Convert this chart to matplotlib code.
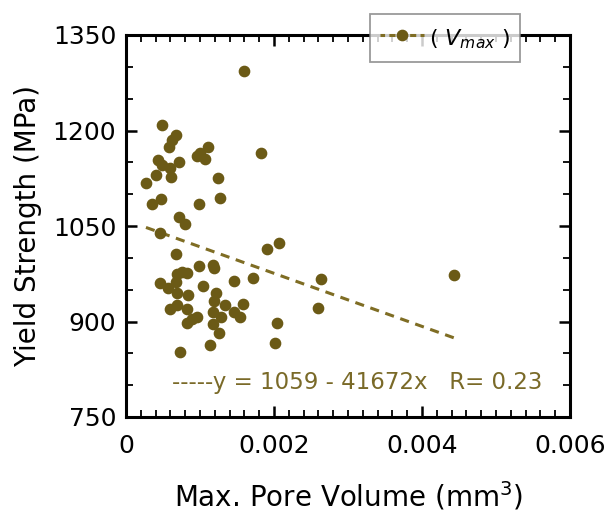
import matplotlib
matplotlib.use("Agg")
import matplotlib.pyplot as plt
from matplotlib.ticker import MultipleLocator, FixedLocator, FixedFormatter
from matplotlib.lines import Line2D
import numpy as np

# Data: max pore volume (mm^3) vs yield strength (MPa)
pore_volume = [
    0.000491, 0.000676, 0.000618, 0.000585, 0.000426, 0.000493, 0.000595, 0.000712,
    0.000405, 0.000604, 0.000270, 0.000351, 0.000469, 0.000714, 0.000800, 0.000459,
    0.000676, 0.000459, 0.000572, 0.000689, 0.000820, 0.000757, 0.000676, 0.000685,
    0.000842, 0.000685, 0.000601, 0.000820, 0.000820, 0.000888, 0.000955, 0.000730,
    0.000959, 0.001000, 0.001068, 0.001112, 0.001247, 0.001270, 0.000991, 0.001831,
    0.001901, 0.002068, 0.000993, 0.001176, 0.001193, 0.001462, 0.001716, 0.001034,
    0.001220, 0.001193, 0.001338, 0.001581, 0.001180, 0.001462, 0.001288, 0.001541,
    0.001180, 0.002043, 0.001259, 0.001131, 0.002007, 0.001595, 0.002631, 0.002599,
    0.004432,
]
yield_strength = [
    1208.6, 1192.9, 1185.1, 1173.6, 1153.7, 1145.8, 1140.6, 1151.0,
    1129.6, 1127.7, 1117.1, 1085.3, 1091.9, 1064.6, 1052.7, 1038.5,
    1006.5, 960.0, 952.1, 974.6, 976.6, 978.5, 962.5, 944.3,
    941.6, 926.7, 920.4, 920.1, 898.1, 903.4, 906.6, 852.1,
    1159.9, 1164.2, 1154.8, 1174.6, 1124.9, 1094.4, 1085.3, 1165.4,
    1013.6, 1023.8, 987.2, 989.2, 983.6, 964.1, 968.8, 956.2,
    944.8, 931.7, 925.9, 927.5, 915.5, 915.0, 907.2, 906.6,
    895.4, 898.1, 882.4, 863.1, 866.7, 1293.9, 966.3, 921.6,
    972.5,
]
fit_intercept = 1059
fit_slope = -41672
fit_r = 0.23

x_ticks = [0, 0.002, 0.004, 0.006]
x_tick_labels = ["0", "0.002", "0.004", "0.006"]
y_ticks = [750, 900, 1050, 1200, 1350]

olive = "#6B5A16"
line_col = "#7F6D24"
text_col = "#7A6A28"

fig = plt.figure(figsize=(6.09, 5.13), dpi=100)
ax = fig.add_axes([126/609, 1-417/513, 444/609, 382/513])

x = np.array(pore_volume)
y = np.array(yield_strength)
ax.plot(x, y, linestyle="none", marker="o", markersize=7.4,
        markerfacecolor=olive, markeredgecolor=olive, zorder=3)

xf = np.array([x.min(), x.max()])
yf = fit_intercept + fit_slope * xf
ax.plot(xf, yf, color=line_col, linewidth=2.2, dashes=(3, 2.2), zorder=2)

# legend proxy
h = Line2D([], [], color=line_col, linewidth=2.2, linestyle=(0.5, (2, 1.4)), marker="o",
           markersize=7.4, markerfacecolor=olive, markeredgecolor=olive)
leg = ax.legend([h], [r"( $V_{max}$ )"], loc="center",
                bbox_to_anchor=((445-126)/444, (417-38)/382),
                frameon=True, fancybox=False, fontsize=16, handlelength=2.0,
                handleheight=1.5, handletextpad=0.2, borderpad=0.45, numpoints=1)
leg.get_frame().set_edgecolor("#808080")
leg.get_frame().set_linewidth(1.3)
leg.set_zorder(10)

ax.text((172-126)/444, (417-383)/382,
        "-----y = %d - %dx   R= %.2f" % (fit_intercept, -fit_slope, fit_r),
        transform=ax.transAxes, color=text_col, fontsize=16.5, va="center", ha="left")

ax.set_xlim(0, 0.006)
ax.set_ylim(750, 1350)
ax.xaxis.set_major_locator(FixedLocator(x_ticks))
ax.xaxis.set_major_formatter(FixedFormatter(x_tick_labels))
ax.xaxis.set_minor_locator(MultipleLocator(0.0002))
ax.yaxis.set_major_locator(FixedLocator(y_ticks))
ax.yaxis.set_minor_locator(MultipleLocator(50))

for s in ax.spines.values():
    s.set_linewidth(2.2)
    s.set_color("black")

ax.tick_params(which="both", direction="in", top=True, right=True, color="black")
ax.tick_params(which="major", length=8, width=1.8, labelsize=18)
ax.tick_params(which="minor", length=5, width=1.3)
ax.tick_params(axis="x", which="major", pad=12)
ax.tick_params(axis="y", which="major", pad=7)

ax.set_xlabel(r"Max. Pore Volume (mm$^3$)", fontsize=20, labelpad=16)
ax.set_ylabel("Yield Strength (MPa)", fontsize=20, labelpad=8)

fig.savefig("out.png", dpi=100)
